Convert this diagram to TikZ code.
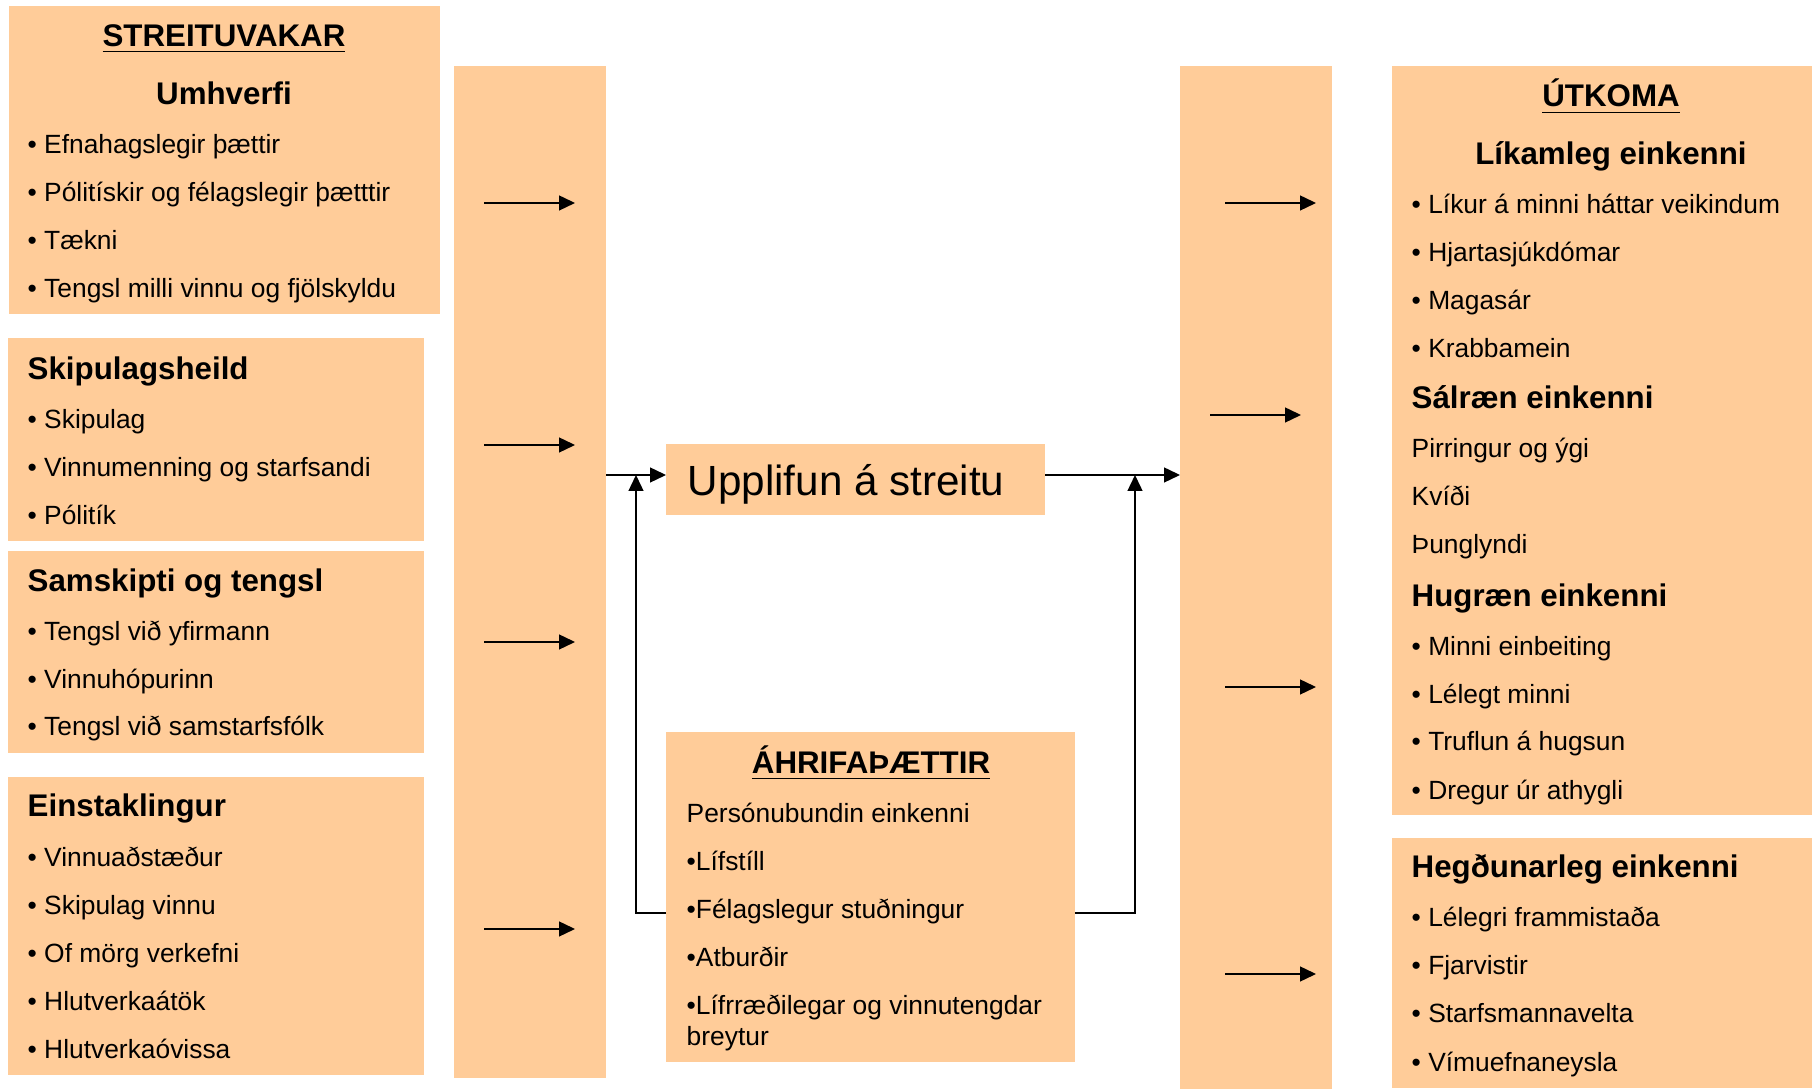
\documentclass[tikz,border=0pt]{standalone}
\usepackage{fontspec}
\setmainfont{Liberation Sans}
\usetikzlibrary{arrows.meta,calc}
\definecolor{peach}{RGB}{255,204,153}
\tikzstyle{box}=[
  fill=peach,inner sep=0pt,outer sep=0pt,anchor=north west
]
\tikzstyle{item}=[
  anchor=base west,inner sep=0pt,font=\fontsize{7.5}{9}\selectfont
]
\tikzstyle{head}=[
  anchor=base west,inner sep=0pt,font=\bfseries\fontsize{8.9}{10}\selectfont
]
\tikzstyle{boxtitle}=[
  head,anchor=base
]
\tikzstyle{flow}=[
  line width=0.45pt,-{Triangle[length=4.5pt,width=4.2pt]}
]

\begin{document}
\begin{tikzpicture}[x=0.01cm,y=-0.01cm]
    \useasboundingbox (0,0) rectangle (1812,1089);
    % streituvakar
    \node (strbox) at (9,6) [box,minimum width=4.31cm,minimum height=3.075cm] {};
    \node (skipbox) at (8,338.5) [box,minimum width=4.16cm,minimum height=2.025cm] {};
    \node (samsbox) at (8,551.5) [box,minimum width=4.16cm,minimum height=2.015cm] {};
    \node (einbox) at (8,777) [box,minimum width=4.16cm,minimum height=2.975cm] {};
    \node (bar1) at (454,66) [box,minimum width=1.52cm,minimum height=10.11cm] {};
    % midja
    \node (upp) at (666,444) [box,minimum width=3.79cm,minimum height=0.71cm] {};
    \node (ahrif) at (666,732.5) [box,minimum width=4.085cm,minimum height=3.29cm] {};
    % utkoma
    \node (bar2) at (1180,66) [box,minimum width=1.515cm,minimum height=10.22cm] {};
    \node (utbox) at (1391.5,66) [box,minimum width=4.21cm,minimum height=7.49cm] {};
    \node (hegbox) at (1391.5,838.5) [box,minimum width=4.21cm,minimum height=2.49cm] {};

    \node (strt) at (224,46.4) [boxtitle] {\underline{STREITUVAKAR}};
    \node (umh) at (224,104.6) [boxtitle] {Umhverfi};
    \foreach \y/\t [count=\i] in {154/Efnahagslegir þættir,202/Pólitískir og félagslegir þætttir,250/Tækni,297.5/Tengsl milli vinnu og fjölskyldu}
      \node (umh\i) at (27,\y) [item] {• \t};
    \node (skip) at (27,379.6) [head] {Skipulagsheild};
    \foreach \y/\t [count=\i] in {428.5/Skipulag,476.7/Vinnumenning og starfsandi,524.2/Pólitík}
      \node (skip\i) at (27,\y) [item] {• \t};
    \node (sams) at (27,591.3) [head] {Samskipti og tengsl};
    \foreach \y/\t [count=\i] in {640.5/Tengsl við yfirmann,688.6/Vinnuhópurinn,736/Tengsl við samstarfsfólk}
      \node (sams\i) at (27,\y) [item] {• \t};
    \node (ein) at (27,817) [head] {Einstaklingur};
    \foreach \y/\t [count=\i] in {866.2/Vinnuaðstæður,914.3/Skipulag vinnu,962.4/Of mörg verkefni,1010.6/Hlutverkaátök,1058.7/Hlutverkaóvissa}
      \node (ein\i) at (27,\y) [item] {• \t};

    \node (upptxt) at (687,495.8) [item,font=\fontsize{12}{14}\selectfont] {Upplifun á streitu};
    \node (ahrift) at (871,773.5) [boxtitle] {\underline{ÁHRIFAÞÆTTIR}};
    \node (pers) at (686,822.7) [item] {Persónubundin einkenni};
    \foreach \y/\t [count=\i] in {870.2/Lífstíll,918.5/Félagslegur stuðningur,966.8/Atburðir,1014.3/Lífrræðilegar og vinnutengdar}
      \node (ahrif\i) at (686,\y) [item] {•\t};
    \node (breyt) at (686,1045) [item] {breytur};

    \node (utt) at (1611,107) [boxtitle] {\underline{ÚTKOMA}};
    \node (lik) at (1611,164.3) [boxtitle] {Líkamleg einkenni};
    \foreach \y/\t [count=\i] in {213.5/Líkur á minni háttar veikindum,261.8/Hjartasjúkdómar,310/Magasár,357.1/Krabbamein}
      \node (lik\i) at (1411,\y) [item] {• \t};
    \node (sal) at (1411,408.9) [head] {Sálræn einkenni};
    \foreach \y/\t [count=\i] in {457.8/Pirringur og ýgi,505.7/Kvíði,554/Þunglyndi}
      \node (sal\i) at (1411,\y) [item] {\t};
    \node (hug) at (1411,606.6) [head] {Hugræn einkenni};
    \foreach \y/\t [count=\i] in {655.5/Minni einbeiting,703.6/Lélegt minni,751/Truflun á hugsun,799.2/Dregur úr athygli}
      \node (hug\i) at (1411,\y) [item] {• \t};
    \node (heg) at (1411,877.6) [head] {Hegðunarleg einkenni};
    \foreach \y/\t [count=\i] in {926.4/Lélegri frammistaða,974.9/Fjarvistir,1023/Starfsmannavelta,1071.2/Vímuefnaneysla}
      \node (heg\i) at (1411,\y) [item] {• \t};

    % orvar
    \foreach \y [count=\i] in {203,445,642,929} {
      \coordinate (ina\i) at (484,\y);
      \coordinate (inb\i) at (575,\y);
      \draw [flow] (ina\i) -- (inb\i);
    }
    \foreach \x/\y [count=\i] in {1225/203,1210/415,1225/687,1225/974} {
      \coordinate (outa\i) at (\x,\y);
      \coordinate (outb\i) at ($(outa\i)+(91,0)$);
      \draw [flow] (outa\i) -- (outb\i);
    }
    \coordinate (lvl) at (0,475);
    \coordinate (fb) at (0,913);
    \coordinate (lj) at (636,475);
    \coordinate (rj) at (1135,475);
    \draw [flow] (bar1.east |- lvl) -- (upp.west |- lvl);
    \draw [flow] (upp.east |- lvl) -- (bar2.west |- lvl);
    \draw [flow] (ahrif.west |- fb) -| (lj);
    \draw [flow] (ahrif.east |- fb) -| (rj);
\end{tikzpicture}
\end{document}
